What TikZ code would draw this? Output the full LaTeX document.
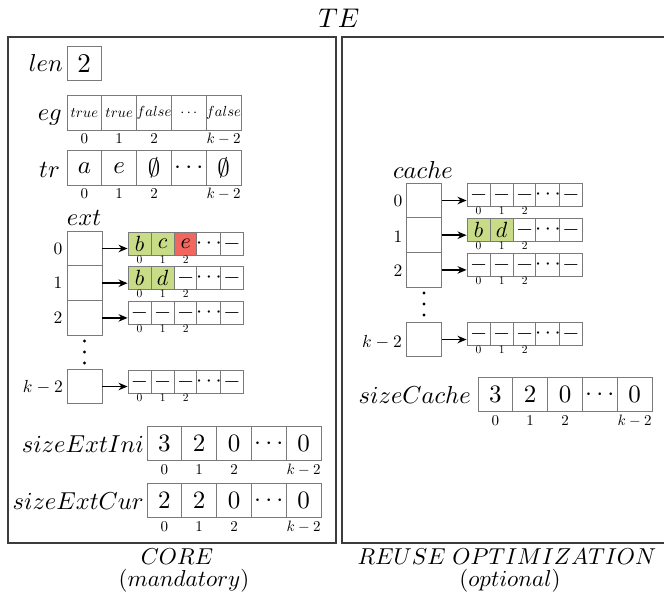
\documentclass[tikz,border=0pt]{standalone}
\DeclareFontShape{OML}{cmm}{m}{it}{<->cmmi10}{}
\DeclareFontShape{OMS}{cmsy}{m}{n}{<->cmsy10}{}
\DeclareFontShape{OT1}{cmr}{m}{n}{<->cmr10}{}
\DeclareFontShape{OMX}{cmex}{m}{n}{<->cmex10}{}
\usetikzlibrary{arrows.meta}
\definecolor{cellgray}{HTML}{7A7A7A}
\definecolor{framegray}{HTML}{3C3C3C}
\definecolor{okgreen}{HTML}{C8DC88}
\definecolor{badred}{HTML}{F2675D}
\newcommand\myfs[1]{\fontsize{#1}{#1}\selectfont}
\newcommand\bigarr[5]{%
  \foreach \t [count=\i from 0] in {#5}{%
    \node[#4] (#1\i) at ({#2+17.4+\i*34.8},#3) {$\t$};}
  \foreach \i/\l in {0/0,1/1,2/2,4/k-2}{%
    \node[idx] (#1n\i) at ([yshift=-13pt]#1\i.south) {$\l$};}}
\newcommand\smallarr[4]{%
  \foreach \t/\c [count=\i from 0] in {#4}{%
    \node[scell, fill=\c] (#1\i) at ({#2+11.55+\i*23.1},{#3+11.6}) {$\t$};}
  \foreach \i in {0,1,2}{%
    \node[sidx] (#1n\i) at ([yshift=-8pt]#1\i.south) {$\i$};}}
\begin{document}
\begin{tikzpicture}[x=1pt,y=-1pt,
  lab/.style={font=\myfs{24.5}, inner sep=0pt},
  bcell/.style={draw=cellgray, line width=0.9pt, inner sep=0pt, minimum width=34.8pt, minimum height=34.8pt, font=\myfs{25}},
  ecell/.style={bcell, font=\myfs{14.6}},
  scell/.style={draw=cellgray, line width=0.9pt, inner sep=0pt, minimum width=23.1pt, minimum height=23.2pt, font=\myfs{22}},
  pbox/.style={draw=cellgray, line width=0.9pt, inner sep=0pt, minimum width=35pt, minimum height=34.7pt},
  idx/.style={font=\myfs{15}, inner sep=0pt, anchor=base},
  sidx/.style={font=\myfs{11.5}, inner sep=0pt, anchor=base},
  ridx/.style={font=\myfs{17.5}, inner sep=0pt},
  ptr/.style={-{Stealth[length=9pt,width=7.5pt]}, line width=1.6pt},
  frame/.style={draw=framegray, line width=1.4pt},
  captxt/.style={font=\myfs{23}, inner sep=0pt}]
\useasboundingbox (0,0) rectangle (664,598);
\node[font=\myfs{27}, inner sep=0pt] (title) at (339,18) {$TE$};
\draw[frame] (8,37) rectangle (336,543);
\draw[frame] (342,37) rectangle (676,543);
% len
\node[lab, anchor=base east] (lenl) at (63,71) {$len$};
\node[bcell, minimum width=34pt, font=\myfs{27}] (len) at (84,63.5) {$2$};
% eg
\node[lab, anchor=base east] (egl) at (62,120) {$eg$};
\bigarr{eg}{67}{113}{ecell}{true,true,false,\cdots,false}
% tr
\node[lab, anchor=base east] (trl) at (60,177) {$tr$};
\bigarr{tr}{67}{168}{bcell}{a,e,\emptyset,\cdots,\emptyset}
% ext
\node[lab, anchor=base] (extl) at (84,225) {$ext$};
\node[pbox] (x0) at (84.5,248.5) {};
\node[pbox] (x1) at (84.5,283.2) {};
\node[pbox] (x2) at (84.5,317.9) {};
\node[pbox] (xk) at (84.5,386.5) {};
\fill (84.5,341) circle (1.7);
\fill (84.5,352) circle (1.7);
\fill (84.5,363) circle (1.7);
\node[ridx] (xi0) at (58,249) {$0$};
\node[ridx] (xi1) at (58,283) {$1$};
\node[ridx] (xi2) at (58,318) {$2$};
\node[ridx, anchor=east] (xik) at (63,387) {$k-2$};
\smallarr{xa0}{128}{232}{b/okgreen,c/okgreen,e/badred,\cdots/white,-/white}
\smallarr{xa1}{128}{266}{b/okgreen,d/okgreen,-/white,\cdots/white,-/white}
\smallarr{xa2}{128}{301}{-/white,-/white,-/white,\cdots/white,-/white}
\smallarr{xak}{128}{370}{-/white,-/white,-/white,\cdots/white,-/white}
\draw[ptr] (x0.east) -- (x0.east -| xa00.west);
\draw[ptr] (x1.east) -- (x1.east -| xa10.west);
\draw[ptr] (x2.east) -- (x2.east -| xa20.west);
\draw[ptr] (xk.east) -- (xk.east -| xak0.west);
% sizeExtIni / sizeExtCur
\node[lab, anchor=base east] (sil) at (144,452) {$sizeExtIni$};
\bigarr{si}{147}{443.5}{bcell}{3,2,0,\cdots,0}
\node[lab, anchor=base east] (scl) at (144,509) {$sizeExtCur$};
\bigarr{sc}{147}{500.5}{bcell}{2,2,0,\cdots,0}
% cache
\node[lab, anchor=base] (cachel) at (423,178) {$cache$};
\node[pbox] (c0) at (424,200.5) {};
\node[pbox] (c1) at (424,235.2) {};
\node[pbox] (c2) at (424,269.9) {};
\node[pbox] (ck) at (424,339.5) {};
\fill (424,293) circle (1.7);
\fill (424,304) circle (1.7);
\fill (424,315) circle (1.7);
\node[ridx] (ci0) at (398,201) {$0$};
\node[ridx] (ci1) at (398,237) {$1$};
\node[ridx] (ci2) at (398,271) {$2$};
\node[ridx, anchor=east] (cik) at (402,342) {$k-2$};
\smallarr{ca0}{467}{183}{-/white,-/white,-/white,\cdots/white,-/white}
\smallarr{ca1}{467}{218}{b/okgreen,d/okgreen,-/white,\cdots/white,-/white}
\smallarr{ca2}{467}{253}{-/white,-/white,-/white,\cdots/white,-/white}
\smallarr{cak}{467}{322}{-/white,-/white,-/white,\cdots/white,-/white}
\draw[ptr] (c0.east) -- (c0.east -| ca00.west);
\draw[ptr] (c1.east) -- (c1.east -| ca10.west);
\draw[ptr] (c2.east) -- (c2.east -| ca20.west);
\draw[ptr] (ck.east) -- (ck.east -| cak0.west);
% sizeCache
\node[lab, anchor=base east] (szl) at (471,403) {$sizeCache$};
\bigarr{sz}{478}{394.5}{bcell}{3,2,0,\cdots,0}
% captions
\node[captxt] (core) at (177,557) {$CORE$};
\node[captxt] (mand) at (184,581) {$(mandatory)$};
\node[captxt] (reuse) at (507,557) {$REUSE\ OPTIMIZATION$};
\node[captxt] (opt) at (510,581) {$(optional)$};
\end{tikzpicture}
\end{document}
